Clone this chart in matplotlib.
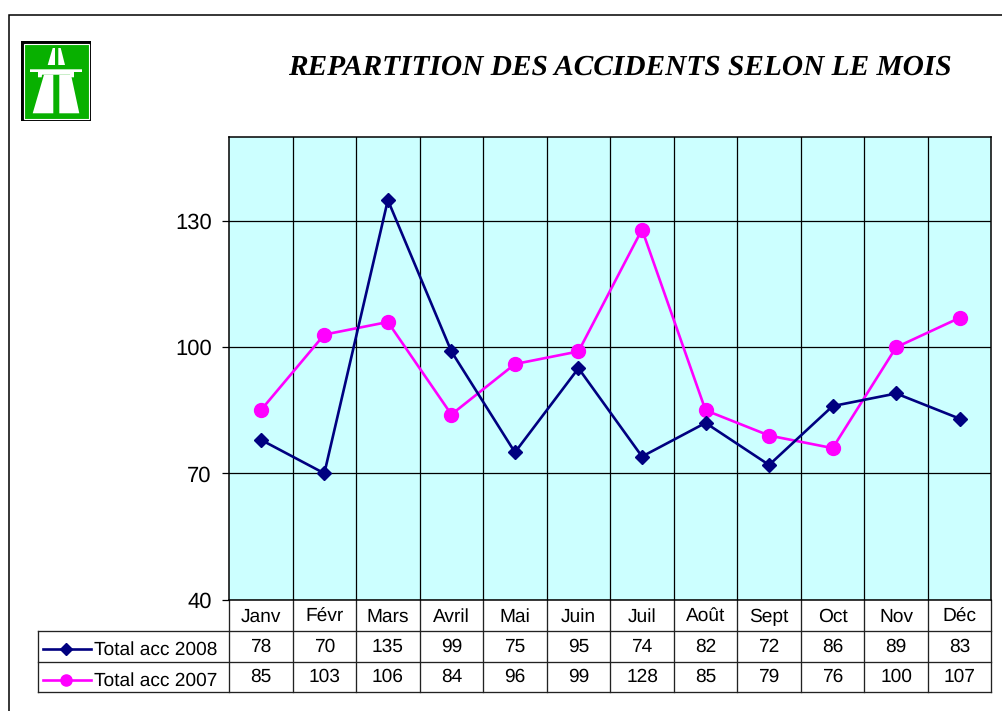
import matplotlib
matplotlib.use("Agg")
import matplotlib.pyplot as plt
from matplotlib.patches import Polygon, Rectangle
from matplotlib.lines import Line2D

months = ["Janv", "Févr", "Mars", "Avril", "Mai", "Juin", "Juil", "Août", "Sept", "Oct", "Nov", "Déc"]
acc_2008 = [78, 70, 135, 99, 75, 95, 74, 82, 72, 86, 89, 83]
acc_2007 = [85, 103, 106, 84, 96, 99, 128, 85, 79, 76, 100, 107]
y_ticks = [40, 70, 100, 130]
label_2008 = "Total acc 2008"
label_2007 = "Total acc 2007"
title = "REPARTITION DES ACCIDENTS SELON LE MOIS"

W, H = 1003, 711
plt.rcParams["font.family"] = ["Liberation Sans", "DejaVu Sans"]
plt.rcParams["text.hinting"] = "no_hinting"
plt.rcParams["text.hinting_factor"] = 8
fig = plt.figure(figsize=(W / 100, H / 100), dpi=100, facecolor="white")

def rect(l, t, r, b):
    return [l / W, 1 - b / H, (r - l) / W, (b - t) / H]

# page overlay in pixel coordinates
page = fig.add_axes([0, 0, 1, 1], zorder=0)
page.set_xlim(0, W); page.set_ylim(H, 0); page.axis("off")
page.plot([9.5, 9.5, W], [H, 15, 15], color="black", lw=1.1, solid_joinstyle="miter")
page.text(619.5, 65, title, family="Liberation Serif", weight="bold", style="italic",
          fontsize=21.2, ha="center", va="center_baseline", color="black")

# main plot
L, R, T, B = 229, 991.5, 137, 599.5
ax = fig.add_axes(rect(L, T, R, B), zorder=2)
ax.set_facecolor("#CCFFFF")
x = list(range(len(months)))
ax.set_xlim(-0.5, len(months) - 0.5)
ax.set_ylim(40, 150)
ax.set_yticks(y_ticks)
ax.set_xticks([i - 0.5 for i in x[1:]], labels=[])
ax.grid(True, color="black", lw=0.9, zorder=1)
ax.set_axisbelow(True)
ax.tick_params(axis="x", length=0)
ax.tick_params(axis="y", length=5, width=0.9, labelsize=15.8, pad=7.5)
for s in ax.spines.values():
    s.set_linewidth(1.1)
    s.set_color("black")
navy, magenta = "#000080", "#FF00FF"
style_2008 = dict(color=navy, lw=1.9, marker="D", ms=7.6, mfc=navy, mec=navy)
style_2007 = dict(color=magenta, lw=1.9, marker="o", ms=10, mfc=magenta, mec=magenta)
ax.plot(x, acc_2007, clip_on=False, zorder=3, **style_2007)
ax.plot(x, acc_2008, clip_on=False, zorder=4, **style_2008)

# data table below the plot
rows = [600, 631, 662, 692]
TL = 38
n = len(months)
col = lambda i: L + (R - L) * i / n
tc, tw = "#222222", 0.95
for i in range(n + 1):
    page.plot([col(i)] * 2, [rows[0], rows[3]], color=tc, lw=tw)
for j, yy in enumerate(rows[1:]):
    page.plot([TL, R], [yy, yy], color=tc, lw=tw)
page.plot([TL, TL], [rows[1], rows[3]], color=tc, lw=tw)
fs = 13.75
for i, m in enumerate(months):
    cx = col(i + 0.5)
    page.text(cx, 621.7, m, ha="center", va="baseline", fontsize=fs, color="black")
    page.text(cx, 651.7, str(acc_2008[i]), ha="center", va="baseline", fontsize=fs, color="black")
    page.text(cx, 682.3, str(acc_2007[i]), ha="center", va="baseline", fontsize=fs, color="black")
for yy, tyy, lab, st in [(649, 655, label_2008, dict(style_2008, ms=6)),
                         (680, 685.7, label_2007, dict(style_2007, ms=8))]:
    page.add_line(Line2D([43, 91], [yy, yy], **{k: v for k, v in st.items() if k in ("color", "lw")}))
    page.plot([66], [yy], ls="none", **{k: v for k, v in st.items() if k not in ("color", "lw")})
    page.text(94, tyy, lab, ha="left", va="baseline", fontsize=fs, color="black")

# motorway sign
page.add_patch(Rectangle((21.5, 40.5), 70, 80.5, fc="black", ec="none"))
page.add_patch(Rectangle((24.5, 43.5), 64.5, 75, fc="#08B000", ec="white", lw=0.8))
white = [
    [(47.7, 65), (52.7, 48), (55, 48), (55, 65)],
    [(58.3, 65), (58.3, 48), (60.7, 48), (65, 65)],
    [(30, 69.3), (82, 69.3), (82, 72), (74, 72), (74, 77.3), (71, 77.3), (70, 74.7),
     (42, 74.7), (41.7, 77.3), (38, 77.3), (38, 72), (30, 72)],
    [(32.7, 113.3), (44, 74.7), (53.3, 74.7), (53.3, 113.3)],
    [(59.3, 74.7), (71, 74.7), (79.3, 113.3), (59.3, 113.3)],
]
for poly in white:
    page.add_patch(Polygon(poly, closed=True, fc="white", ec="none"))

fig.savefig("out.png", dpi=100)
